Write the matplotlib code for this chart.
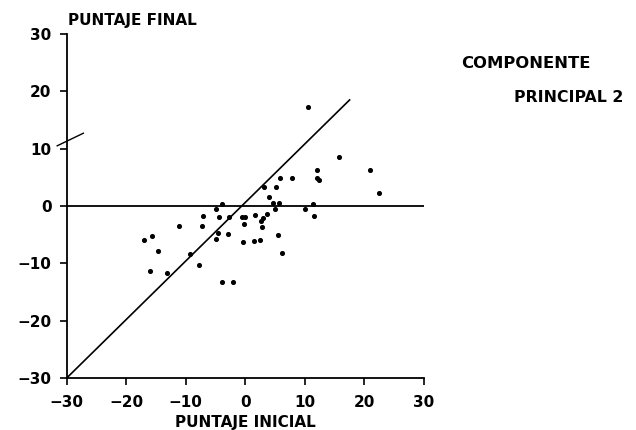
import matplotlib.pyplot as plt

plt.rcParams["font.family"] = ["DejaVu Sans"]
plt.rcParams["font.weight"] = "bold"

# puntaje inicial / puntaje final
INICIAL = [
    -17.1, -15.7, -14.6, -16.0, -13.2, -11.1, -9.3, -7.8, -7.1, -7.2,
    -4.0, -4.9, -4.4, -2.8, -4.6, -4.9, -2.9, -4.0, -2.1, -0.5,
    -0.1, -0.2, -0.4, 1.4, 2.5, 1.7, 3.6, 2.9, 2.7, 2.8,
    3.2, 5.1, 4.0, 4.6, 5.6, 4.9, 5.5, 6.2, 5.8, 7.9,
    10.5, 15.8, 20.9, 12.1, 12.1, 12.3, 22.5, 10.0, 11.4, 11.6,
]
FINAL = [
    -6.0, -5.2, -7.9, -11.4, -11.6, -3.5, -8.3, -10.3, -1.7, -3.5,
    0.4, -0.6, -2.0, -1.9, -4.7, -5.7, -4.9, -13.3, -13.3, -1.9,
    -1.9, -3.2, -6.3, -6.1, -5.9, -1.5, -1.4, -2.1, -2.7, -3.7,
    3.3, 3.3, 1.6, 0.5, 0.5, -0.6, -5.1, -8.2, 4.8, 4.9,
    17.2, 8.6, 6.3, 6.3, 4.8, 4.5, 2.2, -0.6, 0.4, -1.7,
]

TICKS = [-30, -20, -10, 0, 10, 20, 30]
DIAG_X = [-30, 17.5]
DIAG_Y = [-30, 18.5]
BREAK_X = [-31.6, -27.2]
BREAK_Y = [10.5, 12.7]

fig = plt.figure(figsize=(6.36, 4.30), dpi=100)
ax = fig.add_axes([0.1049, 0.1209, 0.5618, 0.8])

ax.axhline(0, color="black", lw=1.3)
ax.plot(DIAG_X, DIAG_Y, color="black", lw=1.2)
ax.plot(BREAK_X, BREAK_Y, color="black", lw=1.0, clip_on=False)
ax.scatter(INICIAL, FINAL, s=7, color="black", zorder=3)

ax.set_xlim(-30, 30)
ax.set_ylim(-30, 30)
ax.set_xticks(TICKS)
ax.set_yticks(TICKS)
ax.tick_params(axis="both", direction="out", length=5, width=1.2, labelsize=11)
ax.tick_params(axis="x", pad=7)
ax.tick_params(axis="y", pad=6)
for side in ["top", "right"]:
    ax.spines[side].set_visible(False)
for side in ["left", "bottom"]:
    ax.spines[side].set_linewidth(1.3)

W, H = 636, 430
fig.text(68 / W, 1 - 20 / H, "PUNTAJE FINAL", fontsize=11, ha="left", va="center")
fig.text(245 / W, 1 - 422 / H, "PUNTAJE INICIAL", fontsize=11, ha="center", va="center")
fig.text(461 / W, 1 - 63 / H, "COMPONENTE", fontsize=11.8, ha="left", va="center")
fig.text(514 / W, 1 - 98 / H, "PRINCIPAL 2", fontsize=11.3, ha="left", va="center")

fig.savefig("out.png", dpi=100)
